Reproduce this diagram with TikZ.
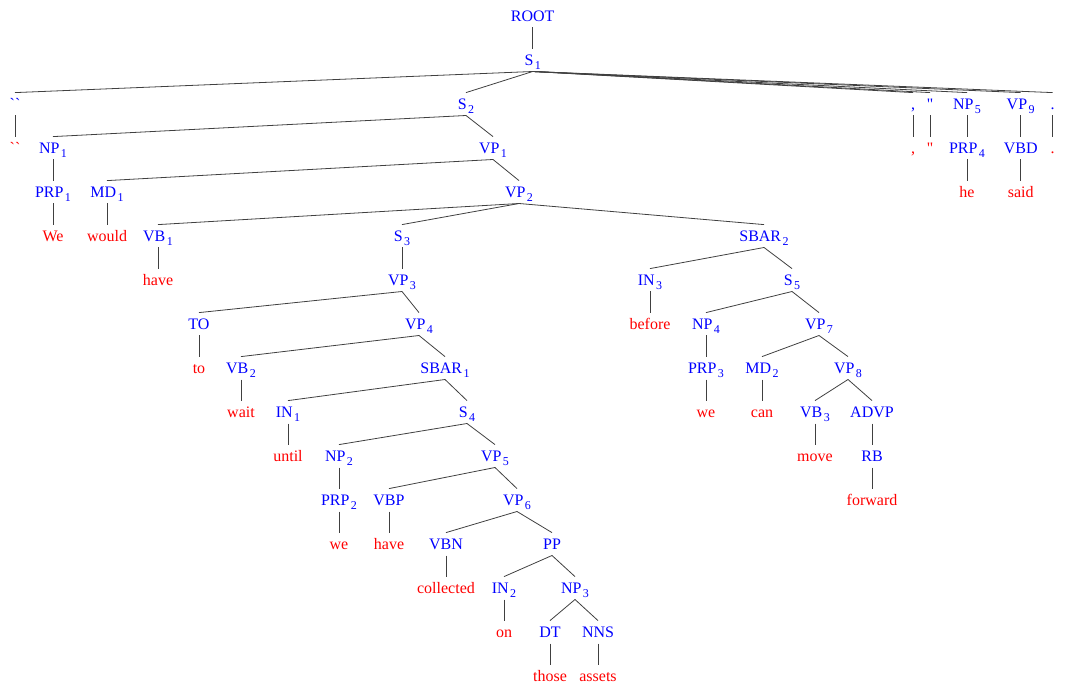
\documentclass[tikz,border=0pt]{standalone}
\usepackage{fontspec}
\setmainfont{Liberation Serif}
\newfontfamily\rawfont{Liberation Serif}
\newcommand\sbx[1]{\hspace{1.5pt}\raisebox{-4pt}{\fontsize{12}{12}\selectfont #1}}
\begin{document}
\begin{tikzpicture}[x=1pt,y=-1pt,
  lab/.style={anchor=base,inner sep=0pt,text height=17pt,text depth=5.5pt,font=\fontsize{16}{16}\selectfont},
  cat/.style={lab,text=blue},
  wrd/.style={lab,text=red},
  edge/.style={draw=black!75,line width=0.8pt}]
\useasboundingbox (0,0) rectangle (1065,692);
% row 0-1
\node[cat] (ROOT) at (532.7,21.8) {ROOT};
\node[cat] (S1) at (532.7,65.8) {S\sbx{1}};
% row 2
\node[cat] (q1) at (15,109.8) {\rawfont ``};
\node[cat] (S2) at (466,109.8) {S\sbx{2}};
\node[cat] (c1) at (913,109.8) {,};
\node[cat] (q2) at (930,109.8) {\rawfont ''};
\node[cat] (NP5) at (967,109.8) {NP\sbx{5}};
\node[cat] (VP9) at (1020.7,109.8) {VP\sbx{9}};
\node[cat] (p1) at (1052.7,109.8) {.};
% row 3
\node[wrd] (q1w) at (15,153.8) {\rawfont ``};
\node[cat] (NP1) at (53,153.8) {NP\sbx{1}};
\node[cat] (VP1) at (493,153.8) {VP\sbx{1}};
\node[wrd] (c1w) at (913,153.8) {,};
\node[wrd] (q2w) at (930,153.8) {\rawfont ''};
\node[cat] (PRP4) at (967,153.8) {PRP\sbx{4}};
\node[cat] (VBD) at (1020.7,153.8) {VBD};
\node[wrd] (p1w) at (1052.7,153.8) {.};
% row 4
\node[cat] (PRP1) at (53,197.8) {PRP\sbx{1}};
\node[cat] (MD1) at (107,197.8) {MD\sbx{1}};
\node[cat] (VP2) at (519,197.8) {VP\sbx{2}};
\node[wrd] (he) at (967,197.8) {he};
\node[wrd] (said) at (1020.7,197.8) {said};
% row 5
\node[wrd] (We) at (53,241.8) {We};
\node[wrd] (would) at (107,241.8) {would};
\node[cat] (VB1) at (158,241.8) {VB\sbx{1}};
\node[cat] (S3) at (402,241.8) {S\sbx{3}};
\node[cat] (SBAR2) at (764,241.8) {SBAR\sbx{2}};
% row 6
\node[wrd] (haveA) at (158,285.8) {have};
\node[cat] (VP3) at (402,285.8) {VP\sbx{3}};
\node[cat] (IN3) at (650,285.8) {IN\sbx{3}};
\node[cat] (S5) at (792,285.8) {S\sbx{5}};
% row 7
\node[cat] (TO) at (199,329.8) {TO};
\node[cat] (VP4) at (419,329.8) {VP\sbx{4}};
\node[wrd] (before) at (650,329.8) {before};
\node[cat] (NP4) at (706,329.8) {NP\sbx{4}};
\node[cat] (VP7) at (819,329.8) {VP\sbx{7}};
% row 8
\node[wrd] (to) at (199,373.8) {to};
\node[cat] (VB2) at (241,373.8) {VB\sbx{2}};
\node[cat] (SBAR1) at (445,373.8) {SBAR\sbx{1}};
\node[cat] (PRP3) at (706,373.8) {PRP\sbx{3}};
\node[cat] (MD2) at (762,373.8) {MD\sbx{2}};
\node[cat] (VP8) at (848,373.8) {VP\sbx{8}};
% row 9
\node[wrd] (wait) at (241,417.8) {wait};
\node[cat] (IN1) at (288,417.8) {IN\sbx{1}};
\node[cat] (S4) at (467,417.8) {S\sbx{4}};
\node[wrd] (weB) at (706,417.8) {we};
\node[wrd] (can) at (762,417.8) {can};
\node[cat] (VB3) at (815,417.8) {VB\sbx{3}};
\node[cat] (ADVP) at (872,417.8) {ADVP};
% row 10
\node[wrd] (until) at (288,461.8) {until};
\node[cat] (NP2) at (339,461.8) {NP\sbx{2}};
\node[cat] (VP5) at (495,461.8) {VP\sbx{5}};
\node[wrd] (move) at (815,461.8) {move};
\node[cat] (RB) at (872,461.8) {RB};
% row 11
\node[cat] (PRP2) at (339,505.8) {PRP\sbx{2}};
\node[cat] (VBP) at (389,505.8) {VBP};
\node[cat] (VP6) at (517,505.8) {VP\sbx{6}};
\node[wrd] (forward) at (872,505.8) {forward};
% row 12
\node[wrd] (weA) at (339,549.8) {we};
\node[wrd] (haveB) at (389,549.8) {have};
\node[cat] (VBN) at (446,549.8) {VBN};
\node[cat] (PP) at (552,549.8) {PP};
% row 13
\node[wrd] (collected) at (446,593.8) {collected};
\node[cat] (IN2) at (504,593.8) {IN\sbx{2}};
\node[cat] (NP3) at (575,593.8) {NP\sbx{3}};
% row 14
\node[wrd] (on) at (504,637.8) {on};
\node[cat] (DT) at (550,637.8) {DT};
\node[cat] (NNS) at (598,637.8) {NNS};
% row 15
\node[wrd] (those) at (550,681.8) {those};
\node[wrd] (assets) at (598,681.8) {assets};
% edges
\foreach \a/\b in {ROOT/S1,
  S1/q1, S1/S2, S1/c1, S1/q2, S1/NP5, S1/VP9, S1/p1,
  q1/q1w, c1/c1w, q2/q2w, NP5/PRP4, VP9/VBD, p1/p1w, PRP4/he, VBD/said,
  S2/NP1, S2/VP1, NP1/PRP1, PRP1/We, VP1/MD1, VP1/VP2, MD1/would,
  VP2/VB1, VP2/S3, VP2/SBAR2, VB1/haveA, S3/VP3, VP3/TO, VP3/VP4, TO/to,
  VP4/VB2, VP4/SBAR1, VB2/wait, SBAR1/IN1, SBAR1/S4, IN1/until,
  S4/NP2, S4/VP5, NP2/PRP2, PRP2/weA, VP5/VBP, VP5/VP6, VBP/haveB,
  VP6/VBN, VP6/PP, VBN/collected, PP/IN2, PP/NP3, IN2/on,
  NP3/DT, NP3/NNS, DT/those, NNS/assets,
  SBAR2/IN3, SBAR2/S5, IN3/before, S5/NP4, S5/VP7, NP4/PRP3, PRP3/weB,
  VP7/MD2, VP7/VP8, MD2/can, VP8/VB3, VP8/ADVP, VB3/move, ADVP/RB, RB/forward}
  \draw[edge] (\a.south) -- (\b.north);
\end{tikzpicture}
\end{document}
